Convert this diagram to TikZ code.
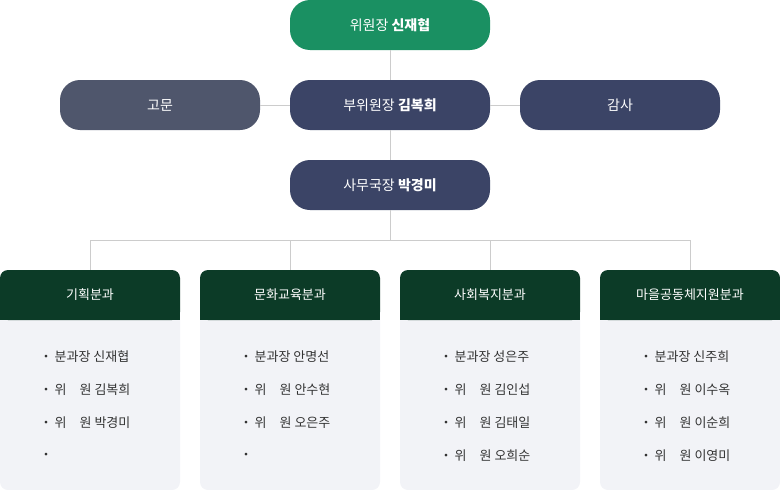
\documentclass[tikz,border=0pt]{standalone}
\usepackage{fontspec}
\setmainfont{Noto Sans CJK KR}
\begin{document}
\begin{tikzpicture}[x=1pt,y=-1pt,
 pill/.style={rounded corners=20pt,minimum width=200pt,minimum height=50pt,text=white,font=\fontsize{14}{16}\selectfont,inner sep=0},
 ln/.style={draw=black!20,line width=0.8pt},
 hd/.style={fill=hgreen,text=white,minimum width=180pt,minimum height=50pt,font=\fontsize{13}{15}\selectfont,inner sep=0},
 itm/.style={anchor=west,font=\fontsize{13}{15}\selectfont,text=black!80}]
\definecolor{tgreen}{HTML}{1A9062}
\definecolor{navy}{HTML}{3B4466}
\definecolor{gray1}{HTML}{4F566C}
\definecolor{hgreen}{HTML}{0C3B27}
\definecolor{body}{HTML}{F2F3F7}
\useasboundingbox (0,0) rectangle (780,490);
\node[pill,fill=tgreen] (chair) at (390,25) {위원장 \textbf{신재협}};
\node[pill,fill=navy] (vice) at (390,105) {부위원장 \textbf{김복희}};
\node[pill,fill=gray1] (adv) at (160,105) {고문};
\node[pill,fill=navy] (aud) at (620,105) {감사};
\node[pill,fill=navy] (sec) at (390,185) {사무국장 \textbf{박경미}};
\draw[ln] (chair) -- (vice); \draw[ln] (vice) -- (sec);
\draw[ln] (adv) -- (vice); \draw[ln] (vice) -- (aud);
\coordinate (j) at (390,240);
\draw[ln] (sec) -- (j);
\draw[ln] (90,270) -- (90,240) -- (690,240) -- (690,270);
\draw[ln] (290,240) -- (290,270); \draw[ln] (490,240) -- (490,270);
\foreach \x/\t/\a/\b/\c/\d in {0/기획분과/분과장 신재협/위\quad 원 김복희/위\quad 원 박경미/,200/문화교육분과/분과장 안명선/위\quad 원 안수현/위\quad 원 오은주/,400/사회복지분과/분과장 성은주/위\quad 원 김인섭/위\quad 원 김태일/위\quad 원 오희순,600/마을공동체지원분과/분과장 신주희/위\quad 원 이수옥/위\quad 원 이순희/위\quad 원 이영미}{
 \fill[body,rounded corners=8pt] (\x,300) rectangle (\x+180,490);
 \fill[hgreen,rounded corners=8pt] (\x,270) rectangle (\x+180,320);
 \fill[hgreen] (\x,300) rectangle (\x+180,320);
 \node[text=white,font=\fontsize{13}{15}\selectfont] (h\x) at (\x+90,295) {\t};
 \node[itm] (i1\x) at (\x+36,357) {・\,\a};
 \node[itm] (i2\x) at (\x+36,390) {・\,\b};
 \node[itm] (i3\x) at (\x+36,423) {・\,\c};
 \node[itm] (i4\x) at (\x+36,456) {\ifx&\d&\else ・\,\d\fi};
}
\end{tikzpicture}
\end{document}
